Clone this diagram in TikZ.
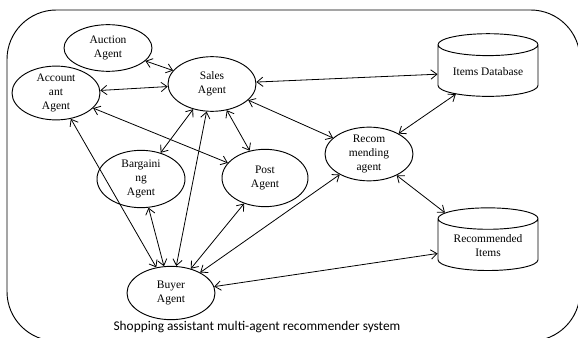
\documentclass[tikz,border=0pt]{standalone}
\usepackage{fontspec}
\setmainfont{Liberation Serif}
\newfontfamily\capfont{Carlito}
\usetikzlibrary{arrows.meta,positioning,shapes.geometric}

\begin{document}
\begin{tikzpicture}[x=0.75pt, y=-0.75pt,
  agent/.style={ellipse, draw, line width=0.7pt, minimum width=66pt, minimum height=41pt,
    inner sep=0pt, align=center, font=\fontsize{8.6}{10.5}\selectfont},
  store/.style={cylinder, shape border rotate=90, draw, line width=0.7pt, aspect=0.3,
    minimum width=75pt, minimum height=47pt, inner sep=1pt, align=center,
    font=\fontsize{8.6}{10.5}\selectfont},
  link/.style={{Straight Barb[length=4.5pt,width=7pt]}-{Straight Barb[length=4.5pt,width=7pt]},
    line width=0.6pt}]
  \useasboundingbox (0,0) rectangle (578,338);
  % 外框
  \draw[line width=0.7pt, rounded corners=37pt] (7,10) rectangle (580,341);
  % 代理
  \node[agent, minimum height=35pt] (auction) at (108,48) {Auction\\Agent};
  \node[agent, minimum height=40pt] (account) at (56,93) {Account\\ant\\Agent};
  \node[agent, minimum height=41pt] (sales) at (212,84) {Sales\\Agent};
  \node[agent, minimum height=43pt] (bargain) at (141,179) {Bargaini\\ng\\Agent};
  \node[agent, minimum width=64.5pt, minimum height=43pt] (post) at (265,178) {Post\\Agent};
  \node[agent, minimum height=38pt] (recom) at (369,154) {Recom\\mending\\agent};
  \node[agent, minimum height=40pt] (buyer) at (171,293) {Buyer\\Agent};
  % 数据库
  \node[store] (itemsdb) at (488,72) {Items Database};
  \node[store] (recitems) at (488,246) {Recommended\\Items};
  % 连线
  \draw[link] (auction) -- (sales);
  \draw[link] (account) -- (sales);
  \draw[link] (account) -- (post);
  \draw[link] (account) -- (buyer);
  \draw[link] (sales) -- (bargain);
  \draw[link] (sales) -- (post);
  \draw[link] (sales) -- (buyer);
  \draw[link] (sales) -- (recom);
  \draw[link] (sales) -- (itemsdb);
  \draw[link] (bargain) -- (buyer);
  \draw[link] (post) -- (buyer);
  \draw[link] (recom) -- (buyer);
  \draw[link] (recom) -- (itemsdb);
  \draw[link] (recom) -- (recitems);
  \draw[link] (buyer) -- (recitems);
  % 标题
  \node[font=\capfont\fontsize{10}{12}\selectfont] (caption) at (257,327)
    {Shopping assistant multi-agent recommender system};
\end{tikzpicture}
\end{document}
